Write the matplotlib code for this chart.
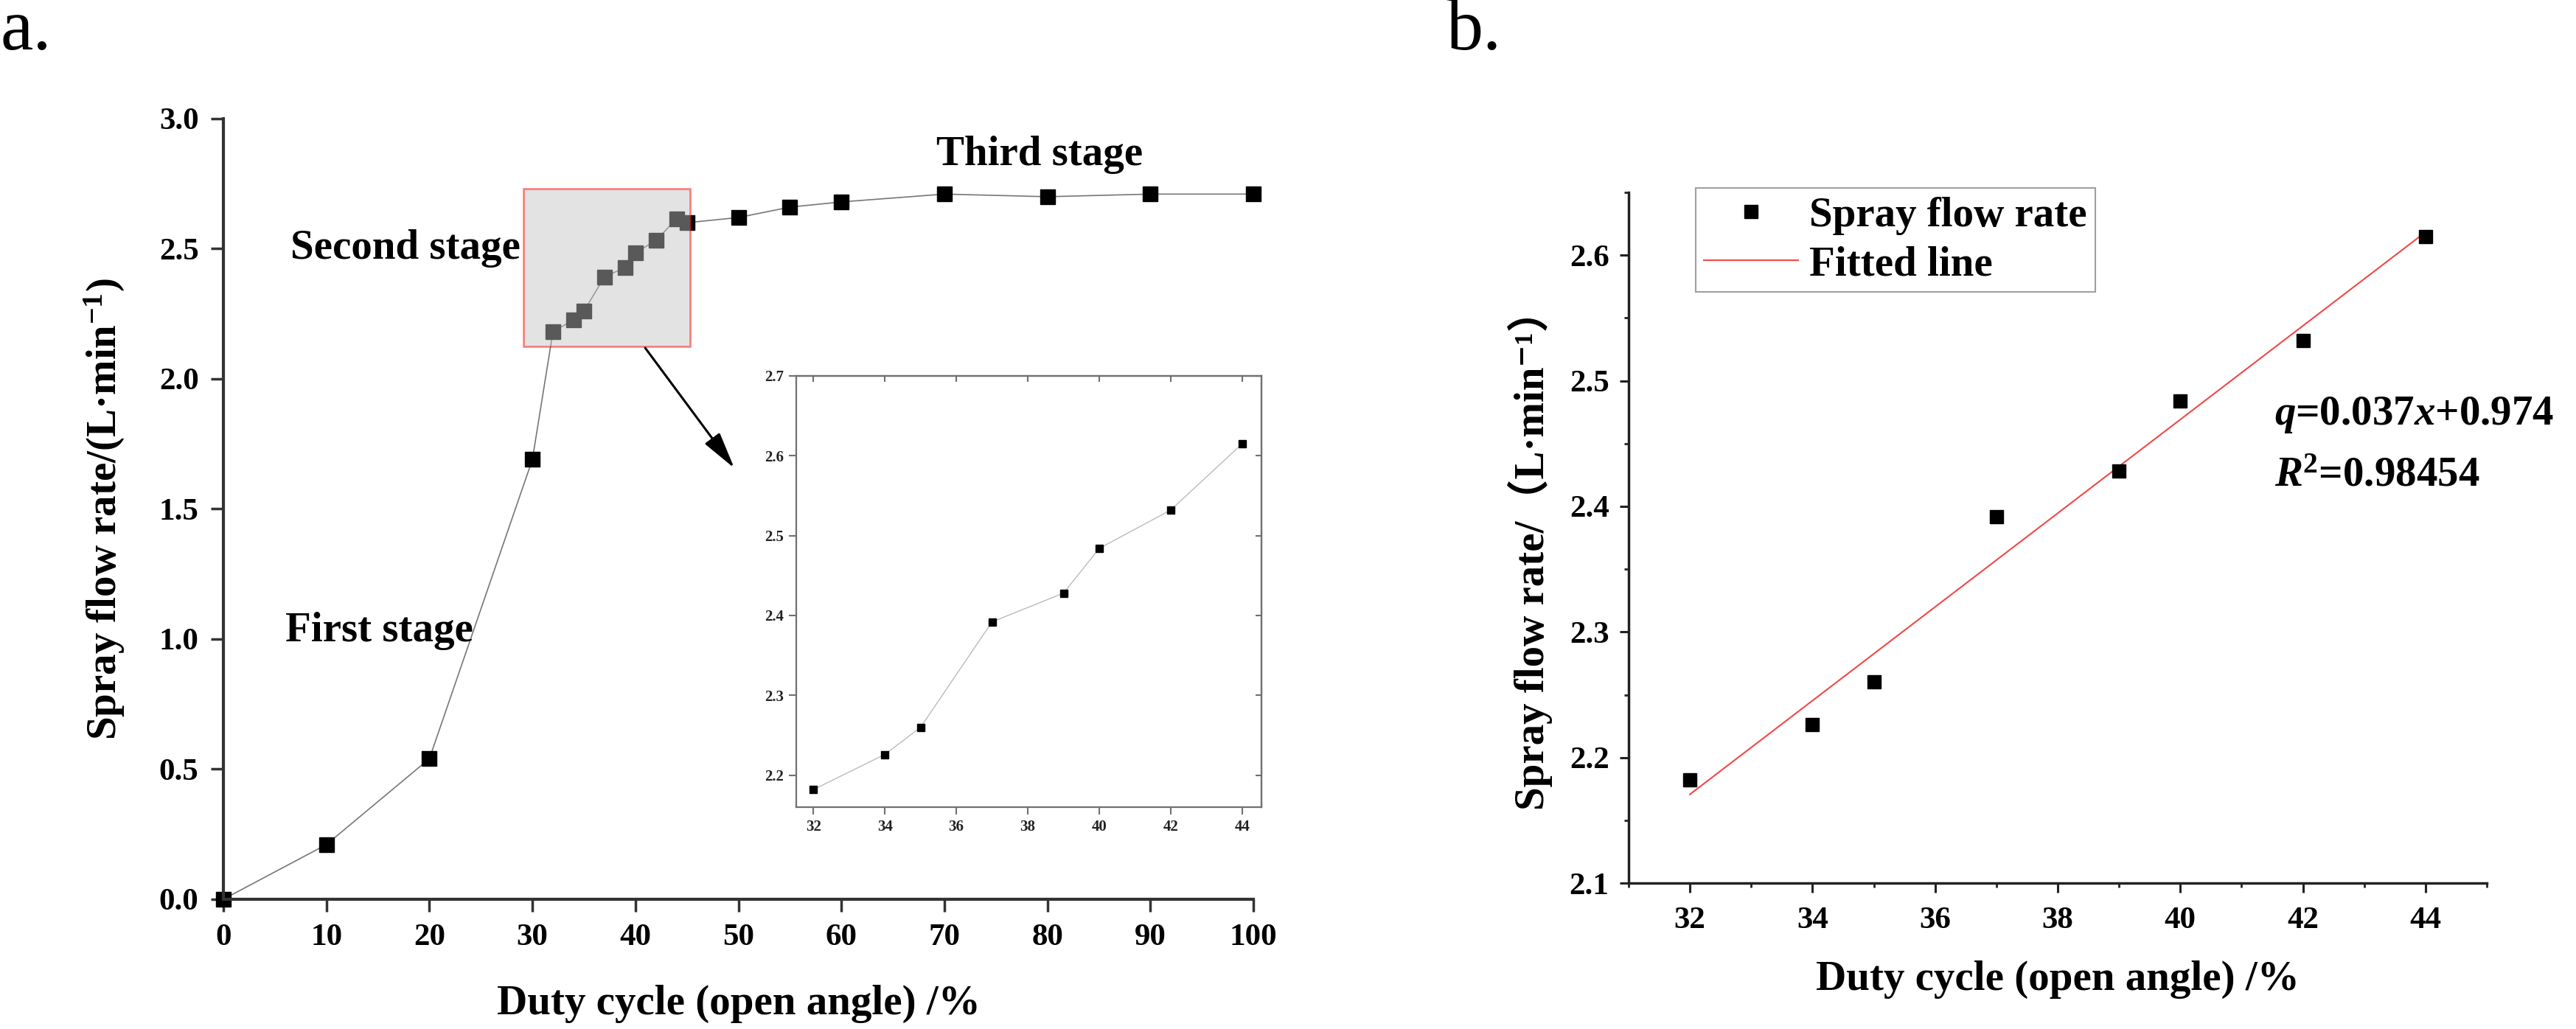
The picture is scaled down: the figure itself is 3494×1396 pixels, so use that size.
import numpy as np
import matplotlib
matplotlib.use("Agg")
import matplotlib.pyplot as plt
from matplotlib.patches import Rectangle
from matplotlib.ticker import MultipleLocator, FormatStrFormatter

# data
duty = [0, 10, 20, 30, 32, 34, 35, 37, 39, 40, 42, 44, 45, 50, 55, 60, 70, 80, 90, 100]
flow = [0.0, 0.21, 0.54, 1.69, 2.182, 2.226, 2.26, 2.392, 2.428, 2.484, 2.532, 2.615,
        2.60, 2.62, 2.66, 2.68, 2.71, 2.70, 2.71, 2.71]

duty_stage2 = [32, 34, 35, 37, 39, 40, 42, 44]
flow_stage2 = [2.182, 2.226, 2.26, 2.392, 2.428, 2.484, 2.532, 2.615]

x_ticks_a = [0, 10, 20, 30, 40, 50, 60, 70, 80, 90, 100]
y_ticks_a = [0.0, 0.5, 1.0, 1.5, 2.0, 2.5, 3.0]
x_ticks_in = [32, 34, 36, 38, 40, 42, 44]
y_ticks_in = [2.2, 2.3, 2.4, 2.5, 2.6, 2.7]
x_ticks_b = [32, 34, 36, 38, 40, 42, 44]
y_ticks_b = [2.1, 2.2, 2.3, 2.4, 2.5, 2.6]

FAMILY = ['Liberation Serif', 'Noto Sans CJK SC', 'DejaVu Sans']
plt.rcParams['font.family'] = FAMILY
plt.rcParams['font.weight'] = 'bold'
plt.rcParams['mathtext.fontset'] = 'custom'
plt.rcParams['mathtext.rm'] = 'Liberation Serif:bold'
plt.rcParams['mathtext.bf'] = 'Liberation Serif:bold'
plt.rcParams['mathtext.it'] = 'Liberation Serif:bold:italic'

LABEL_FS = 41
TICK_FS = 31

fig = plt.figure(figsize=(34.94, 13.96), dpi=100)

# ---------- panel a ----------
ax1 = fig.add_axes([0.0867, 0.1261, 0.3999, 0.7586])
ax1.plot(duty, flow, color='#777777', lw=1.2, marker='s', ms=14.5,
         mfc='black', mec='black', zorder=2, clip_on=False)
ax1.set_xlim(0, 100)
ax1.set_ylim(0, 3.0)
ax1.set_xticks(x_ticks_a)
ax1.set_yticks(y_ticks_a)
ax1.yaxis.set_major_formatter(FormatStrFormatter('%.1f'))
for s in ['top', 'right']:
    ax1.spines[s].set_visible(False)
for s in ['left', 'bottom']:
    ax1.spines[s].set_linewidth(3)
    ax1.spines[s].set_color('#333333')
ax1.tick_params(direction='out', length=12, width=2.5, color='#333333',
                labelsize=TICK_FS, pad=12)
ax1.set_xlabel('Duty cycle (open angle) /%', fontsize=LABEL_FS, fontweight='bold')
ax1.set_ylabel('Spray flow rate/(L·min$^{-1}$)', fontsize=LABEL_FS, fontweight='bold')
ax1.xaxis.set_label_coords(0.5, -0.134)
ax1.xaxis.label.set_va('center')
ax1.yaxis.set_label_coords(-0.1152, 0.5)
ax1.yaxis.label.set_va('center')

ax1.text(6.5, 2.50, 'Second stage', fontsize=LABEL_FS, fontweight='bold', va='center')
ax1.text(6.0, 1.03, 'First stage', fontsize=LABEL_FS, fontweight='bold', va='center')
ax1.text(69.2, 2.86, 'Third stage', fontsize=LABEL_FS, fontweight='bold', va='center')

box = Rectangle((29.1, 2.125), 16.2, 0.607, facecolor=(0.77, 0.77, 0.77),
                edgecolor='red', lw=2, alpha=0.46, zorder=3)
ax1.add_patch(box)
ax1.annotate('', xy=(49.6, 1.657), xytext=(40.95, 2.119),
             arrowprops=dict(arrowstyle='-|>,head_length=1.4,head_width=0.35',
                             color='black', lw=2.2, mutation_scale=22,
                             shrinkA=0, shrinkB=0), zorder=4)

# inset
axi = fig.add_axes([0.3091, 0.2156, 0.1806, 0.4191])
axi.plot(duty_stage2, flow_stage2, color='#bbbbbb', lw=1.0, marker='s', ms=6.5,
         mfc='black', mec='black')
axi.set_xlim(31.52, 44.54)
axi.set_ylim(2.16, 2.70)
axi.set_xticks(x_ticks_in)
axi.set_yticks(y_ticks_in)
axi.yaxis.set_major_formatter(FormatStrFormatter('%.1f'))
for s in axi.spines.values():
    s.set_linewidth(1.6)
    s.set_color('#707070')
axi.tick_params(direction='out', length=7, width=1.5, color='#707070',
                labelsize=15, labelcolor='#222222', pad=5)
top = axi.secondary_xaxis('top')
top.set_xticks(x_ticks_in)
top.tick_params(direction='in', length=6, width=1.5, color='#707070', labeltop=False)
top.spines['top'].set_linewidth(1.6)
top.spines['top'].set_color('#707070')
right = axi.secondary_yaxis('right')
right.set_yticks(y_ticks_in)
right.tick_params(direction='in', length=6, width=1.5, color='#707070', labelright=False)
right.spines['right'].set_linewidth(1.6)
right.spines['right'].set_color('#707070')

# ---------- panel b ----------
ax2 = fig.add_axes([0.6322, 0.1418, 0.3332, 0.6712])
coef = np.polyfit(duty_stage2, flow_stage2, 1)
x_fit = np.array([duty_stage2[0], duty_stage2[-1]])
ax2.plot(duty_stage2, flow_stage2, ls='none', marker='s', ms=13,
         mfc='black', mec='black', label='Spray flow rate', zorder=3)
ax2.plot(x_fit, np.polyval(coef, x_fit), color='#f04848', lw=1.5,
         label='Fitted line', zorder=2)
ax2.set_xlim(31, 45)
ax2.set_ylim(2.1, 2.65)
ax2.set_xticks(x_ticks_b)
ax2.set_yticks(y_ticks_b)
ax2.xaxis.set_minor_locator(MultipleLocator(1))
ax2.yaxis.set_minor_locator(MultipleLocator(0.05))
ax2.yaxis.set_major_formatter(FormatStrFormatter('%.1f'))
for s in ['top', 'right']:
    ax2.spines[s].set_visible(False)
for s in ['left', 'bottom']:
    ax2.spines[s].set_linewidth(2.5)
    ax2.spines[s].set_color('#222222')
ax2.tick_params(which='major', direction='out', length=9, width=2.2, color='#222222',
                labelsize=TICK_FS)
ax2.tick_params(which='minor', direction='out', length=4.5, width=2, color='#222222')
ax2.tick_params(axis='x', pad=14)
ax2.tick_params(axis='y', pad=10)
ax2.set_xlabel('Duty cycle (open angle) /%', fontsize=LABEL_FS, fontweight='bold')
# plain text (no mathtext) so the full-width brackets can fall back to the CJK font
ax2.set_ylabel('Spray flow rate/\uff08L·min\u207b\u00b9\uff09', fontsize=LABEL_FS,
               fontweight='bold', family=FAMILY)
ax2.xaxis.set_label_coords(0.5, -0.14)
ax2.xaxis.label.set_va('center')
ax2.yaxis.set_label_coords(-0.115, 0.482)
ax2.yaxis.label.set_va('center')

leg = ax2.legend(loc='upper left', bbox_to_anchor=(0.078, 1.006), borderaxespad=0,
                 numpoints=1, handlelength=2.25, handletextpad=0.26,
                 labelspacing=0.25, borderpad=0.2, fancybox=False, framealpha=1,
                 edgecolor='#a0a0a0', prop={'weight': 'bold', 'size': LABEL_FS})
leg.get_frame().set_linewidth(1.5)

ax2.text(0.7526, 0.678, '$q$=0.037$x$+0.974', transform=ax2.transAxes,
         fontsize=LABEL_FS, fontweight='bold', va='center', ha='left')
ax2.text(0.7526, 0.5896, '$R$$^{2}$=0.98454', transform=ax2.transAxes,
         fontsize=LABEL_FS, fontweight='bold', va='center', ha='left')

fig.text(0.0, 0.952, 'a.', fontsize=72, fontweight='normal', va='baseline')
fig.text(0.5615, 0.952, 'b.', fontsize=72, fontweight='normal', va='baseline')

fig.savefig('out.png', dpi=100)
